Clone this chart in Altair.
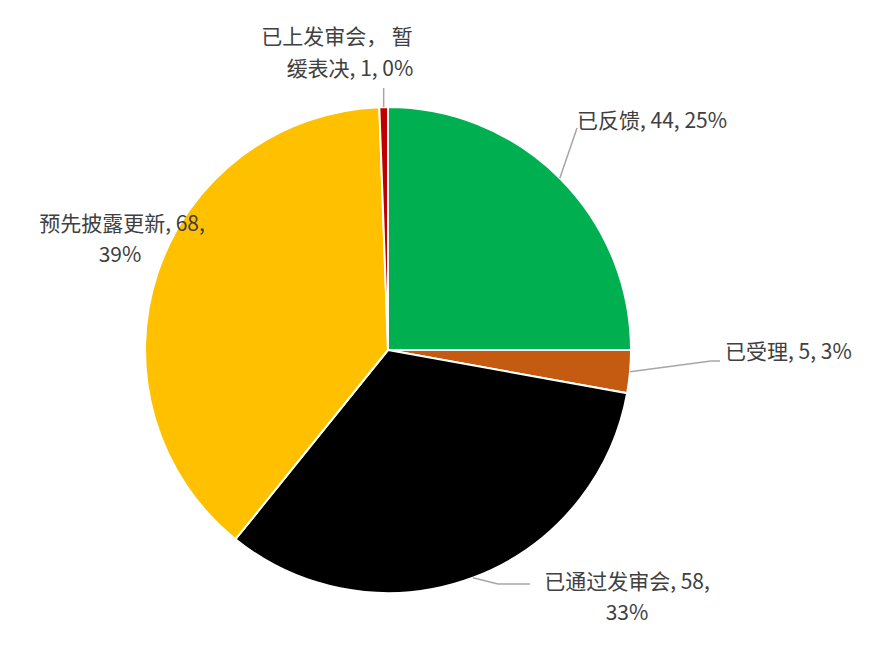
import math
import altair as alt
import pandas as pd

# ---- data ----
CATEGORIES = ["已反馈", "已受理", "已通过发审会", "预先披露更新", "已上发审会，暂缓表决"]
VALUES = [44, 5, 58, 68, 1]
PERCENTS = ["25%", "3%", "33%", "39%", "0%"]
COLORS = ["#00B050", "#C55A11", "#000000", "#FFC000", "#C00000"]

# label text lines (as printed in the chart)
LABEL_LINES = {
    "已反馈": ["已反馈, 44, 25%"],
    "已受理": ["已受理, 5, 3%"],
    "已通过发审会": ["已通过发审会, 58,", "33%"],
    "预先披露更新": ["预先披露更新, 68,", "39%"],
    "已上发审会，暂缓表决": ["已上发审会，  暂", "缓表决, 1, 0%"],
}

# ---- layout (pixels in chart coordinates) ----
CX, CY, R = 380, 342, 243
LABEL_POS = {  # list of (x, y, align) per line
    "已反馈": [(569, 114, "left")],
    "已受理": [(717, 345, "left")],
    "已通过发审会": [(619, 575, "center"), (619, 606, "center")],
    "预先披露更新": [(114, 217, "center"), (112, 248, "center")],
    "已上发审会，暂缓表决": [(329, 30, "center"), (342, 62, "center")],
}
LEADER_BENDS = {  # points after the slice edge
    "已反馈": [(569, 120)],
    "已受理": [(703, 353), (712, 353)],
    "已通过发审会": [(490, 576), (522, 576)],
    "已上发审会，暂缓表决": [(None, 80)],
}

df = pd.DataFrame({"cat": CATEGORIES, "value": VALUES, "idx": range(len(VALUES))})

total = sum(VALUES)
cum = 0
mids = {}
for c, v in zip(CATEGORIES, VALUES):
    mids[c] = (cum + v / 2) / total * 2 * math.pi
    cum += v

lab_rows = []
for c in CATEGORIES:
    for (x, y, al), t in zip(LABEL_POS[c], LABEL_LINES[c]):
        lab_rows.append({"t": t, "x": x, "y": y, "al": al})
lab_df = pd.DataFrame(lab_rows)

lead_rows = []
for c, bends in LEADER_BENDS.items():
    a = mids[c]
    ex, ey = CX + R * math.sin(a), CY - R * math.cos(a)
    lead_rows.append({"cat": c, "o": 0, "x": ex, "y": ey})
    for k, (bx, by) in enumerate(bends):
        lead_rows.append({"cat": c, "o": k + 1, "x": ex if bx is None else bx, "y": by})
lead_df = pd.DataFrame(lead_rows)

pie = alt.Chart(df).mark_arc(radius=R, stroke="white", strokeWidth=2).encode(
    theta=alt.Theta("value:Q", stack=True),
    color=alt.Color("cat:N", scale=alt.Scale(domain=CATEGORIES, range=COLORS), legend=None),
    order=alt.Order("idx:Q"),
    x=alt.value(CX),
    y=alt.value(CY),
)

leaders = alt.Chart(lead_df).mark_line(color="#A6A6A6", strokeWidth=1.5).encode(
    x=alt.X("x:Q", scale=None),
    y=alt.Y("y:Q", scale=None),
    detail="cat:N",
    order="o:Q",
)

def text_layer(align):
    return alt.Chart(lab_df).transform_filter(alt.datum.al == align).mark_text(
        align=align, baseline="middle", font="Noto Sans CJK SC", fontSize=21, color="#404040"
    ).encode(
        x=alt.X("x:Q", scale=None),
        y=alt.Y("y:Q", scale=None),
        text="t:N",
    )

chart = alt.layer(pie, leaders, text_layer("left"), text_layer("center")).properties(
    width=866, height=654, padding=0
).configure_view(stroke=None)

chart.save("out.html", embed_options={"renderer": "svg", "actions": False})
